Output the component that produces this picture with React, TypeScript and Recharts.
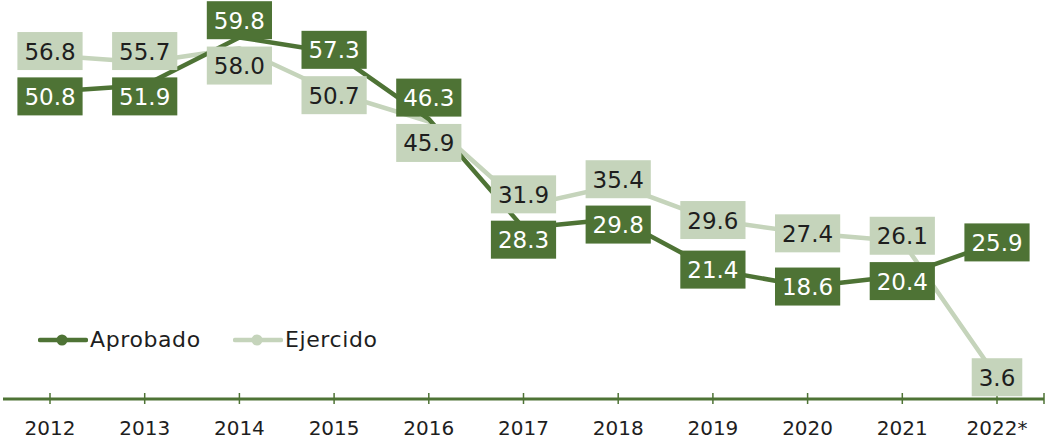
import React from 'react';
import { LineChart, Line, XAxis, YAxis, LabelList, Legend } from 'recharts';

const years = ['2012', '2013', '2014', '2015', '2016', '2017', '2018', '2019', '2020', '2021', '2022*'];
const aprobado = [50.8, 51.9, 59.8, 57.3, 46.3, 28.3, 29.8, 21.4, 18.6, 20.4, 25.9];
const ejercido = [56.8, 55.7, 58.0, 50.7, 45.9, 31.9, 35.4, 29.6, 27.4, 26.1, 3.6];
const seriesNames = ['Aprobado', 'Ejercido'];

const data = years.map((year, i) => ({ year, aprobado: aprobado[i], ejercido: ejercido[i] }));

const DARK = '#4E7335';
const LIGHT = '#C5D4BB';
const TEXT = '#1e1e1e';
const FONT = '"DejaVu Sans", sans-serif';
const Y_MAX = 65;
const PLOT_H = 393;
const PX = PLOT_H / Y_MAX;
const MIN_SEP = 7.5;
const LABEL_FS = 23;

function labelTarget(own: number, other: number) {
  const diff = own - other;
  if (Math.abs(diff) >= MIN_SEP) return own;
  const mid = (own + other) / 2;
  return diff >= 0 ? mid + MIN_SEP / 2 : mid - MIN_SEP / 2;
}

function textWidth(s: string, fs: number) {
  let w = 0;
  for (const ch of s) w += ch === '.' ? 0.318 * fs : 0.636 * fs;
  return w;
}

const makeLabel = (own: number[], other: number[], fill: string, color: string) => (props: any) => {
  const { x, y, index } = props;
  if (x == null || y == null || index == null) return null;
  const v = own[index];
  const t = labelTarget(v, other[index]);
  const cy = y - (t - v) * PX;
  const text = v.toFixed(1);
  const w = textWidth(text, LABEL_FS) + 14;
  const h = 38;
  return (
    <g>
      <rect x={x - w / 2} y={cy - h / 2} width={w} height={h} fill={fill} />
      <text x={x} y={cy + LABEL_FS * 0.37} textAnchor="middle" fontSize={LABEL_FS} fill={color} fontFamily={FONT}>
        {text}
      </text>
    </g>
  );
};

const YearTick = (props: any) => {
  const { x, y, payload, index } = props;
  return (
    <g>
      <line x1={x} x2={x} y1={y - 6} y2={y + 5} stroke={DARK} strokeWidth={1.5} />
      {index === years.length - 1 && (
        <line x1={x + 47} x2={x + 47} y1={y - 6} y2={y + 5} stroke={DARK} strokeWidth={1.5} />
      )}
      <text x={x} y={y + 36} textAnchor="middle" fontSize={20} fill={TEXT} fontFamily={FONT}>
        {payload.value}
      </text>
    </g>
  );
};

const legendColors = [DARK, LIGHT];
const legendLeft = [38, 233];

const LegendContent = () => (
  <div style={{ position: 'relative', width: 1046, height: 440, pointerEvents: 'none' }}>
    {seriesNames.map((name, i) => (
      <div
        key={name}
        style={{
          position: 'absolute',
          left: legendLeft[i],
          top: 327,
          display: 'flex',
          alignItems: 'center',
          fontFamily: FONT,
          fontSize: 22,
          letterSpacing: 0.6,
          color: TEXT,
          whiteSpace: 'nowrap',
        }}
      >
        <svg width={50} height={14} style={{ display: 'block' }}>
          <line x1={2} x2={48} y1={7} y2={7} stroke={legendColors[i]} strokeWidth={4.5} strokeLinecap="round" />
          <circle cx={24} cy={7} r={5.5} fill={legendColors[i]} />
        </svg>
        <span style={{ marginLeft: 2 }}>{name}</span>
      </div>
    ))}
  </div>
);

export default function App() {
  return (
    <div style={{ position: 'absolute', left: 0, top: 0 }}>
      <LineChart width={1046} height={440} data={data} margin={{ top: 6, right: 2, left: 3, bottom: 0 }}>
        <XAxis
          dataKey="year"
          padding={{ left: 47, right: 47 }}
          axisLine={{ stroke: DARK, strokeWidth: 3 }}
          tickLine={false}
          tickSize={0}
          tickMargin={0}
          height={41}
          interval={0}
          tick={<YearTick />}
        />
        <YAxis hide domain={[0, Y_MAX]} />
        <Legend
          layout="horizontal"
          verticalAlign="middle"
          align="center"
          wrapperStyle={{ left: 0, top: 0, width: 1046, height: 440 }}
          content={() => <LegendContent />}
        />
        <Line
          dataKey="ejercido"
          stroke={LIGHT}
          strokeWidth={4.5}
          dot={false}
          activeDot={false}
          isAnimationActive={false}
          strokeLinejoin="round"
        />
        <Line
          dataKey="aprobado"
          stroke={DARK}
          strokeWidth={4.5}
          dot={false}
          activeDot={false}
          isAnimationActive={false}
          strokeLinejoin="round"
        />
        <Line dataKey="ejercido" stroke="none" dot={false} activeDot={false} legendType="none" isAnimationActive={false}>
          <LabelList dataKey="ejercido" content={makeLabel(ejercido, aprobado, LIGHT, TEXT)} />
        </Line>
        <Line dataKey="aprobado" stroke="none" dot={false} activeDot={false} legendType="none" isAnimationActive={false}>
          <LabelList dataKey="aprobado" content={makeLabel(aprobado, ejercido, DARK, '#ffffff')} />
        </Line>
      </LineChart>
    </div>
  );
}
